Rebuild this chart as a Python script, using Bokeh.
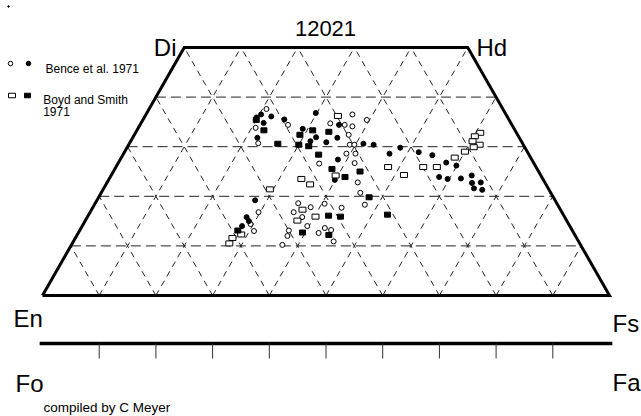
from bokeh.plotting import figure
from bokeh.embed import file_html
from bokeh.resources import INLINE
from bokeh.core.properties import value

# ---------------- data ----------------
title_text = "12021"
corner_names = ["Di", "Hd", "En", "Fs"]
olivine_names = ["Fo", "Fa"]
legend_texts = ["Bence et al. 1971", "Boyd and Smith", "1971"]
credit_text = "compiled by C Meyer"
grid_steps = [10, 20, 30, 40, 50, 60, 70, 80, 90]
wo_steps = [10, 20, 30, 40]

# Bence et al. 1971 (open and filled circles): Wo %, Fs %
bence_open_wo = [37.6, 33.8, 30.7, 34.4, 34.7, 34.4, 34.1, 36.5, 35.4, 32.4, 30.4, 30.4,
                 28.6, 28.6, 26.6, 26.7, 22.8, 20.7, 18.3, 18.5, 17.7, 18.6, 17.8, 16.8,
                 15.8, 14.0, 13.1, 12.0, 12.6, 13.6, 13.2, 10.9, 10.2, 16.8, 13.0, 14.4]
bence_open_fs = [20.7, 20.7, 22.7, 26.1, 33.4, 36.1, 37.6, 36.4, 39.5, 37.8, 39.0, 39.8,
                 39.3, 40.9, 35.5, 41.7, 44.2, 45.7, 47.7, 40.5, 43.9, 35.8, 38.4, 35.9,
                 37.9, 39.7, 36.9, 37.2, 42.4, 43.0, 44.3, 45.9, 37.2, 29.7, 30.8, 29.5]
bence_fill_wo = [36.5, 35.9, 34.8, 36.1, 31.8, 35.5, 33.6, 31.1, 31.9, 36.8, 30.9, 31.8,
                 34.4, 27.4, 23.3, 30.6, 30.4, 28.6, 29.8, 28.9, 28.3, 26.8, 26.2, 23.9,
                 23.5, 23.6, 24.2, 22.8, 22.7, 21.6, 21.3, 19.2, 15.8, 15.0, 14.0]
bence_fill_fs = [20.3, 19.8, 21.6, 22.3, 22.0, 24.9, 29.1, 31.7, 32.3, 29.8, 34.6, 36.1,
                 35.1, 38.4, 39.9, 41.3, 43.2, 46.9, 48.2, 51.9, 54.6, 57.8, 59.9, 58.0,
                 59.7, 62.0, 63.6, 65.9, 64.4, 65.3, 66.9, 27.9, 28.1, 28.9, 28.2]

# Boyd and Smith 1971 (open and filled squares): Wo %, Fs %
boyd_open_wo = [36.2, 23.5, 22.4, 21.4, 24.2, 25.9, 24.3, 25.9, 25.9, 27.8, 29.0, 32.8,
                32.1, 31.1, 30.4, 29.9, 17.3, 15.9, 15.1, 12.3, 11.6, 10.5]
boyd_open_fs = [34.0, 33.9, 36.0, 29.4, 39.6, 48.0, 51.6, 54.2, 56.6, 58.8, 60.0, 60.8,
                60.2, 60.3, 61.9, 61.1, 37.2, 40.2, 37.4, 28.9, 27.7, 27.7]
boyd_fill_wo = [35.4, 33.3, 30.6, 32.4, 33.3, 30.4, 30.1, 33.0, 28.4, 25.5, 23.9, 25.0,
                19.8, 16.1, 15.9, 12.7, 12.2, 16.3, 13.1]
boyd_fill_fs = [20.0, 22.4, 26.2, 29.2, 31.0, 30.0, 31.9, 34.0, 34.5, 38.3, 41.4, 43.5,
                47.7, 42.4, 44.6, 39.5, 44.4, 52.7, 27.9]


def tern_x(wo, fs):
    return [f + w / 2.0 for w, f in zip(wo, fs)]


# ---------------- layout helpers (picture pixel -> data) ----------------
PX0, PXS = 42.0, 5.67   # En corner x, pixels per unit X
PY0, PYS = 295.0, 4.96  # En corner y, pixels per unit Wo
W, H = 641, 416


def dx(px):
    return (px - PX0) / PXS


def dy(py):
    return (PY0 - py) / PYS


p = figure(width=W, height=H, output_backend="svg", toolbar_location=None,
           x_range=(dx(0), dx(W)), y_range=(dy(H), dy(0)),
           x_axis_location=None, y_axis_location=None, min_border=0)
p.outline_line_color = None
p.xgrid.visible = False
p.ygrid.visible = False
p.background_fill_color = "white"
p.border_fill_color = "white"

FONT = value("Liberation Sans")

# ---------------- dashed grid ----------------
hx, hy = [], []
for w in wo_steps:
    hx.append([w / 2.0, 100 - w / 2.0])
    hy.append([w, w])
p.multi_line(hx, hy, line_color="#222222", line_width=1, line_dash="10 5")

dgx, dgy = [], []
for k in grid_steps:
    # constant Fs = k (up-right)
    if k <= 50:
        dgx.append([k, k + 25]); dgy.append([0, 50])
    else:
        dgx.append([k, 50 + k / 2.0]); dgy.append([0, 100 - k])
    # constant En = 100 - k (up-left)
    e = 100 - k
    if e <= 50:
        dgx.append([k, 75 - e]); dgy.append([0, 50])
    else:
        dgx.append([k, (100 - e) / 2.0]); dgy.append([0, 100 - e])
p.multi_line(dgx, dgy, line_color="#222222", line_width=1, line_dash="6 5")

# ---------------- outline ----------------
p.line([0, 100, 75, 25, 0], [0, 0, 50, 50, 0], line_color="black", line_width=3,
       line_join="miter")

# olivine bar
oy = dy(343)
p.line([-0.5, 100.5], [oy, oy], line_color="black", line_width=3.5)
p.multi_line([[k, k] for k in grid_steps], [[oy, dy(358)] for _ in grid_steps],
             line_color="#333333", line_width=1)

# ---------------- data markers ----------------
p.scatter(tern_x(bence_open_wo, bence_open_fs), bence_open_wo, marker="circle", size=5,
          fill_color="white", line_color="black", line_width=1)
p.scatter(tern_x(bence_fill_wo, bence_fill_fs), bence_fill_wo, marker="circle", size=5,
          fill_color="black", line_color="black", line_width=1)
p.rect(tern_x(boyd_open_wo, boyd_open_fs), boyd_open_wo, width=7, height=5,
       width_units="screen", height_units="screen",
       fill_color="white", line_color="black", line_width=1)
p.rect(tern_x(boyd_fill_wo, boyd_fill_fs), boyd_fill_wo, width=6, height=5,
       width_units="screen", height_units="screen",
       fill_color="black", line_color="black", line_width=1)

# legend markers
p.scatter([dx(10)], [dy(63)], marker="circle", size=4.5, fill_color="white",
          line_color="black", line_width=1)
p.scatter([dx(28)], [dy(63)], marker="circle", size=4.5, fill_color="black",
          line_color="black", line_width=1)
p.rect([dx(11.5)], [dy(95)], width=7, height=4.5, width_units="screen",
       height_units="screen", fill_color="white", line_color="black", line_width=1)
p.rect([dx(27)], [dy(95)], width=6, height=4.5, width_units="screen",
       height_units="screen", fill_color="black", line_color="black", line_width=1)
p.scatter([dx(8)], [dy(6)], marker="circle", size=1.5, fill_color="black",
          line_color="black")


# ---------------- texts ----------------
def txt(s, px, py, size, align="left"):
    p.text([dx(px)], [dy(py)], text=[s], text_font=FONT, text_font_size=size,
           text_align=align, text_baseline="alphabetic", text_color="black")


txt(title_text, 325, 28, "22px", "center")
txt(corner_names[0], 176, 47, "24px", "right")
txt(corner_names[1], 476, 47, "24px")
txt(corner_names[2], 13, 318, "24px")
txt(corner_names[3], 612, 323, "24px")
txt(olivine_names[0], 15, 383, "24px")
txt(olivine_names[1], 612, 382, "24px")
txt(credit_text, 43, 407, "13.5px")
txt(legend_texts[0], 45, 68, "12px")
txt(legend_texts[1], 42.7, 99, "12px")
txt(legend_texts[2], 42.7, 111, "12px")

open("out.html", "w").write(file_html(p, INLINE))
